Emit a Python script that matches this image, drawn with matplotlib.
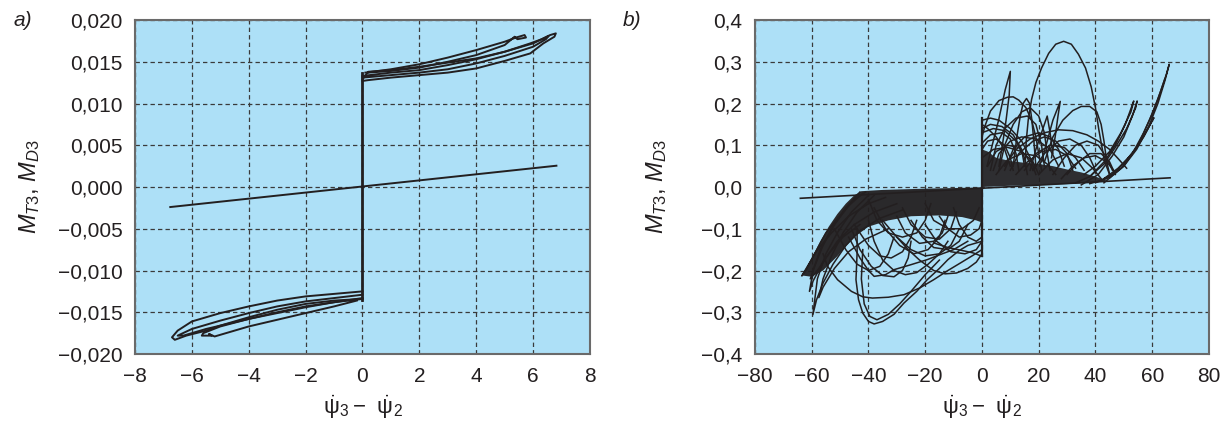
import matplotlib
matplotlib.use("Agg")
import matplotlib.pyplot as plt

INK = "#231f20"
PANEL_BG = "#ade0f7"

# ---------- panel a) ----------
A_XTICKS = [-8, -6, -4, -2, 0, 2, 4, 6, 8]
A_XLABELS = ["\u22128", "\u22126", "\u22124", "\u22122", "0", "2", "4", "6", "8"]
A_YTICKS = [0.020, 0.015, 0.010, 0.005, 0.0, -0.005, -0.010, -0.015, -0.020]
A_YLABELS = ["0,020", "0,015", "0,010", "0,005", "0,000",
             "\u22120,005", "\u22120,010", "\u22120,015", "\u22120,020"]

A_LINE_X = [-6.76, 6.82]
A_LINE_Y = [-0.0024, 0.00255]
A_JUMP_X = [0.0, 0.0]
A_JUMP_Y = [-0.0135, 0.0137]

A_UP_BIG_X = [0.0, 0.2, 1.0, 2.0, 3.0, 4.0, 5.0, 5.9, 6.3, 6.6, 6.8, 6.75, 6.36, 5.9, 5.0, 4.0, 3.0, 2.0, 1.0, 0.2, 0.0]
A_UP_BIG_Y = [0.0129, 0.0138, 0.0140, 0.0144, 0.0149, 0.0154, 0.0162, 0.0172, 0.0177, 0.0182, 0.0184, 0.0180, 0.0172,
              0.0160, 0.0151, 0.0142, 0.0137, 0.0134, 0.0131, 0.0128, 0.0127]
A_UP_TIP_X = [0.1, 1.0, 2.0, 3.0, 4.0, 5.0, 5.4, 5.7, 5.75, 5.45, 5.35, 5.0, 4.0, 3.0, 2.0, 1.0, 0.2]
A_UP_TIP_Y = [0.0137, 0.0141, 0.0147, 0.0155, 0.0164, 0.0174, 0.0179, 0.0182, 0.0179, 0.0177, 0.0180, 0.0170,
              0.0158, 0.0150, 0.0143, 0.0139, 0.0137]
A_UP_MID_X = [0.0, 1.0, 2.0, 3.0, 4.0, 5.0, 6.0, 6.55, 6.45, 6.0, 5.0, 4.0, 3.0, 2.0, 1.0, 0.0]
A_UP_MID_Y = [0.0133, 0.0137, 0.0140, 0.0146, 0.0153, 0.0162, 0.0172, 0.0181, 0.0177, 0.0168, 0.0157, 0.0148,
              0.0141, 0.0137, 0.0134, 0.0131]

A_LO_BIG_X = [0.0, -1.0, -2.0, -3.0, -4.0, -5.0, -6.0, -6.5, -6.7, -6.6, -6.2, -5.5, -5.0, -4.0, -3.0, -2.0, -1.0, 0.0]
A_LO_BIG_Y = [-0.0125, -0.0128, -0.0131, -0.0136, -0.0143, -0.0151, -0.0161, -0.0172, -0.0180, -0.0183, -0.0178,
              -0.0172, -0.0166, -0.0156, -0.0147, -0.0140, -0.0136, -0.0134]
A_LO_TIP_X = [0.0, -1.0, -2.0, -3.0, -4.0, -5.0, -5.6, -5.65, -5.3, -5.4, -5.2, -4.0, -3.0, -2.0, -1.0, -0.2]
A_LO_TIP_Y = [-0.0134, -0.0138, -0.0143, -0.0150, -0.0158, -0.0167, -0.0175, -0.0178, -0.0178, -0.0176, -0.0179,
              -0.0167, -0.0159, -0.0151, -0.0143, -0.0136]
A_LO_MID_X = [0.0, -1.0, -2.0, -3.0, -4.0, -5.0, -6.0, -6.5, -6.3, -5.5, -4.0, -3.0, -2.0, -1.0, 0.0]
A_LO_MID_Y = [-0.0129, -0.0133, -0.0137, -0.0143, -0.0151, -0.0160, -0.0170, -0.0178, -0.0178, -0.0170, -0.0158,
              -0.0151, -0.0144, -0.0138, -0.0133]

# ---------- panel b) ----------
B_XTICKS = [-80, -60, -40, -20, 0, 20, 40, 60, 80]
B_XLABELS = ["\u221280", "\u221260", "\u221240", "\u221220", "0", "20", "40", "60", "80"]
B_YTICKS = [0.4, 0.3, 0.2, 0.1, 0.0, -0.1, -0.2, -0.3, -0.4]
B_YLABELS = ["0,4", "0,3", "0,2", "0,1", "0,0", "\u22120,1", "\u22120,2", "\u22120,3", "\u22120,4"]

B_LINE_X = [-64.0, 66.3]
B_LINE_Y = [-0.027, 0.022]
B_JUMP_X = [0.0, 0.0]
B_JUMP_Y = [-0.166, 0.166]

# dense tangles of trajectory, drawn as filled areas
B_POS_DENSE = [(0, 0.0), (0, 0.09), (2, 0.085), (5, 0.07), (10, 0.062), (15, 0.058), (20, 0.055), (25, 0.05),
               (30, 0.042), (35, 0.035), (40, 0.025), (44, 0.015), (40, 0.01), (30, 0.007), (20, 0.005),
               (10, 0.003)]
B_NEG_DENSE = [(0, -0.001), (-20, -0.004), (-35, -0.007), (-42.5, -0.01), (-45, -0.02), (-48, -0.04),
               (-51, -0.065), (-54, -0.095), (-57, -0.13), (-60, -0.17), (-62.5, -0.2), (-63.3, -0.212),
               (-60, -0.215), (-56, -0.2), (-51, -0.166), (-45, -0.12), (-40, -0.095), (-33, -0.08),
               (-25, -0.07), (-15, -0.068), (-7, -0.072), (-2, -0.08), (0, -0.085)]

B_POS_ARCS = [
    [(15.3, 0.06), (15.6, 0.11), (16.3, 0.16), (17.5, 0.21), (19, 0.25), (21, 0.285), (23.5, 0.32), (26, 0.342),
     (28.8, 0.349), (31.5, 0.342), (34, 0.318), (36.5, 0.285), (38.5, 0.24), (40, 0.19), (41.2, 0.137),
     (42.3, 0.095), (43.3, 0.06), (45.2, 0.026)],
    [(1.8, 0.05), (3.5, 0.097), (5.9, 0.161), (8.2, 0.233), (10, 0.277), (9.6, 0.22), (8.5, 0.16), (7.2, 0.1),
     (6, 0.05)],
    [(0, 0.12), (1, 0.145), (3, 0.182), (6, 0.207), (9, 0.215), (11, 0.216), (13, 0.208), (15.5, 0.19),
     (17.5, 0.16), (19, 0.12), (20, 0.08), (21, 0.04)],
    [(11, 0.05), (12.3, 0.12), (13.5, 0.17), (14.5, 0.2), (15.7, 0.212), (16.8, 0.2), (17.6, 0.16), (18.3, 0.11),
     (19, 0.05)],
    [(21, 0.06), (23, 0.11), (25, 0.16), (27.6, 0.205), (26.8, 0.17), (25.8, 0.12), (24.5, 0.07)],
    [(22, 0.06), (25, 0.12), (28.5, 0.16), (32, 0.183), (35, 0.193), (38, 0.193), (40.5, 0.18), (42, 0.15),
     (43, 0.11), (44, 0.06), (45, 0.03)],
    [(8, 0.05), (12, 0.09), (17, 0.115), (22, 0.13), (27, 0.137), (32, 0.135), (37, 0.125), (41, 0.11),
     (45, 0.09), (48, 0.068), (51, 0.045)],
    [(38, 0.008), (44, 0.02), (49, 0.045), (53, 0.08), (57, 0.13), (60, 0.175), (63, 0.23), (65, 0.27),
     (66, 0.294), (64.5, 0.255), (62, 0.2), (58.5, 0.14), (54.5, 0.09), (50, 0.05), (45, 0.022)],
    [(40, 0.01), (46, 0.03), (51, 0.065), (55, 0.1), (58, 0.135), (60.6, 0.166), (57, 0.12), (53, 0.08),
     (48, 0.045), (43, 0.02)],
    [(33, 0.01), (38, 0.025), (43, 0.06), (47, 0.1), (50.5, 0.15), (53.5, 0.206), (52.5, 0.18), (49, 0.13),
     (45, 0.085), (40, 0.05), (36, 0.03)],
    [(35, 0.005), (41, 0.03), (46, 0.075), (50, 0.12), (53, 0.17), (54.7, 0.206), (54.2, 0.19), (51, 0.14),
     (47, 0.095), (43, 0.055), (38, 0.025)],
    [(43, 0.01), (50, 0.05), (55, 0.1), (59, 0.16), (62, 0.21), (64.5, 0.26)],
    [(0, 0.16), (3, 0.165), (6, 0.16), (10, 0.14), (14, 0.11), (17, 0.07), (19, 0.03)],
    [(0, 0.13), (4, 0.14), (8, 0.135), (12, 0.11), (15, 0.07), (16, 0.03)],
    [(0, 0.105), (3, 0.125), (7, 0.13), (10, 0.115), (12, 0.08), (13, 0.04)],
    [(4, 0.04), (6, 0.08), (10, 0.11), (14, 0.12), (19, 0.115), (24, 0.09), (27, 0.05)],
    [(10, 0.04), (13, 0.08), (18, 0.11), (22, 0.12), (26, 0.11), (30, 0.08), (32, 0.04)],
    [(2, 0.05), (5, 0.085), (9, 0.1), (13, 0.095), (16, 0.07), (18, 0.04)],
    [(15, 0.04), (19, 0.08), (24, 0.1), (29, 0.095), (33, 0.07), (36, 0.04)],
    [(20, 0.03), (25, 0.065), (30, 0.08), (35, 0.07), (39, 0.045), (42, 0.02)],
    [(6, 0.04), (8, 0.1), (11, 0.15), (14, 0.18), (17, 0.19), (20, 0.17), (22, 0.13), (23, 0.08), (24, 0.04)],
    [(25, 0.03), (29, 0.07), (33, 0.1), (37, 0.11), (41, 0.1), (44, 0.07), (46, 0.04)],
    [(28, 0.02), (32, 0.05), (36, 0.07), (40, 0.075), (44, 0.06), (47, 0.035)],
    [(12, 0.03), (16, 0.06), (21, 0.085), (26, 0.09), (30, 0.075), (33, 0.045)],
    [(0, 0.09), (2, 0.11), (5, 0.115), (8, 0.1), (10, 0.07), (11, 0.04)],
    [(0, 0.07), (4, 0.09), (9, 0.095), (14, 0.085), (18, 0.06), (20, 0.03)],
    [(5, 0.03), (9, 0.065), (14, 0.08), (19, 0.075), (23, 0.055), (26, 0.03)],
    [(17, 0.04), (19, 0.09), (21, 0.13), (22.5, 0.16), (23, 0.17), (24, 0.13), (25, 0.08)],
    [(0, 0.15), (2, 0.14), (5, 0.12), (8, 0.09), (10, 0.05)],
    [(0, 0.14), (3, 0.15), (7, 0.145), (11, 0.125), (14, 0.09), (15, 0.05)],
    [(3, 0.04), (5, 0.1), (8, 0.14), (12, 0.165), (16, 0.17), (19, 0.15), (21, 0.1), (22, 0.05)],
    [(8, 0.04), (11, 0.09), (15, 0.12), (20, 0.13), (24, 0.12), (27, 0.09), (29, 0.05)],
    [(18, 0.04), (22, 0.08), (27, 0.11), (31, 0.115), (35, 0.1), (38, 0.07), (40, 0.04)],
    [(30, 0.03), (34, 0.06), (38, 0.08), (42, 0.08), (45, 0.06), (47, 0.03)],
]

B_NEG_ARCS = [
    [(-41, -0.012), (-45, -0.03), (-50, -0.068), (-55, -0.11), (-59, -0.16), (-62, -0.2), (-63.5, -0.213),
     (-61.5, -0.19), (-58, -0.15), (-53, -0.11), (-47, -0.07), (-40, -0.04), (-34, -0.025)],
    [(-43, -0.012), (-48, -0.05), (-53, -0.1), (-57, -0.15), (-59.5, -0.2), (-60.8, -0.25), (-59.5, -0.225),
     (-56, -0.18), (-51, -0.13), (-45, -0.09), (-38, -0.06), (-30, -0.04)],
    [(-40, -0.02), (-46, -0.06), (-51, -0.11), (-55, -0.16), (-58, -0.22), (-59.6, -0.306), (-58.3, -0.27),
     (-56, -0.23), (-52.5, -0.185), (-48, -0.14), (-43, -0.105), (-36, -0.075), (-28, -0.055)],
    [(-38, -0.02), (-44, -0.06), (-49, -0.11), (-53, -0.165), (-56, -0.22), (-57.5, -0.265), (-56, -0.24),
     (-52, -0.195), (-47, -0.155), (-41, -0.125), (-33, -0.1)],
    [(-42, -0.015), (-47, -0.045), (-52, -0.09), (-56, -0.14), (-59, -0.19), (-60.5, -0.22), (-58, -0.2),
     (-54, -0.16), (-49, -0.12), (-43, -0.09)],
    [(-44, -0.1), (-44, -0.158), (-44.4, -0.222), (-43.5, -0.27), (-42, -0.302), (-40, -0.322), (-38, -0.328),
     (-35, -0.322), (-31, -0.305), (-27.5, -0.278), (-23, -0.25), (-19.3, -0.222), (-15, -0.195),
     (-12, -0.174), (-8, -0.152), (-5, -0.14), (0, -0.13)],
    [(-42, -0.15), (-42.5, -0.22), (-41.5, -0.28), (-39.5, -0.31), (-37, -0.318), (-33, -0.305), (-29, -0.28),
     (-25, -0.25), (-20, -0.21), (-15, -0.175)],
    [(-56, -0.16), (-54.4, -0.19), (-50.9, -0.222), (-46, -0.25), (-42, -0.263), (-38.6, -0.266),
     (-33, -0.264), (-27.5, -0.258), (-22, -0.242), (-17, -0.222), (-12, -0.2), (-7.6, -0.182),
     (-3, -0.163), (0, -0.15)],
    [(-47, -0.12), (-43, -0.17), (-40, -0.2), (-38, -0.214), (-34, -0.21), (-31, -0.198), (-25, -0.186),
     (-19.3, -0.174), (-14, -0.16), (-10, -0.15), (-5, -0.13)],
    [(-30, -0.12), (-26, -0.15), (-22, -0.175), (-17, -0.2), (-13, -0.208), (-9, -0.206), (-5, -0.195),
     (-2, -0.18), (0, -0.16)],
    [(-40, -0.08), (-38, -0.13), (-35, -0.175), (-31, -0.2), (-27, -0.21), (-23, -0.205), (-19, -0.185),
     (-15, -0.16), (-12, -0.13)],
    [(-46, -0.1), (-43, -0.15), (-39, -0.19), (-35, -0.212), (-31, -0.215), (-28, -0.2), (-26, -0.17),
     (-25, -0.13)],
    [(-17, -0.134), (-12, -0.145), (-7, -0.152), (-3, -0.158), (0, -0.166)],
    [(-20, -0.09), (-16, -0.13), (-11, -0.155), (-6, -0.16), (-2, -0.15), (0, -0.13)],
    [(-35, -0.08), (-30, -0.12), (-25, -0.15), (-20, -0.165), (-15, -0.16), (-11, -0.14), (-8, -0.1)],
    [(-25, -0.08), (-21, -0.12), (-17, -0.145), (-12, -0.15), (-8, -0.13), (-5, -0.09)],
    [(-45, -0.09), (-40, -0.14), (-36, -0.165), (-32, -0.17), (-28, -0.155), (-25, -0.12), (-23, -0.08)],
    [(-30, -0.07), (-27, -0.11), (-22, -0.135), (-17, -0.13), (-14, -0.11), (-12, -0.07)],
    [(-52, -0.1), (-48, -0.15), (-44, -0.185), (-40, -0.2), (-36, -0.19), (-33, -0.16), (-31, -0.12)],
    [(-15, -0.07), (-12, -0.1), (-8, -0.12), (-4, -0.115), (-1, -0.1), (0, -0.08)],
    [(-40, -0.03), (-37, -0.08), (-33, -0.11), (-28, -0.12), (-23, -0.11), (-20, -0.08), (-18, -0.04)],
    [(-20, -0.04), (-17, -0.08), (-12, -0.1), (-7, -0.1), (-3, -0.08), (-1, -0.05)],
    [(-38, -0.05), (-34, -0.1), (-29, -0.14), (-24, -0.16), (-19, -0.15), (-15, -0.12), (-13, -0.08)],
    [(-10, -0.05), (-8, -0.09), (-5, -0.12), (-2, -0.13), (0, -0.12)],
    [(-28, -0.05), (-25, -0.09), (-20, -0.12), (-15, -0.125), (-11, -0.1), (-9, -0.06)],
]

XLABEL = r"$\dot{\mathrm{\psi}}_3 -\;\, \dot{\mathrm{\psi}}_2$"
YLABEL = r"$M_{T\mathit{3}}$, $M_{D\mathit{3}}$"

plt.rcParams["font.family"] = ["Liberation Sans", "DejaVu Sans"]
plt.rcParams["mathtext.fontset"] = "custom"
plt.rcParams["mathtext.rm"] = "Liberation Sans"
plt.rcParams["mathtext.it"] = "Liberation Sans:italic"
plt.rcParams["mathtext.bf"] = "Liberation Sans:bold"


def style_axes(ax, xticks, xlabels, yticks, ylabels, ylab_x):
    ax.set_facecolor(PANEL_BG)
    ax.set_xlim(xticks[0], xticks[-1])
    ax.set_ylim(min(yticks), max(yticks))
    ax.set_xticks(xticks)
    ax.set_xticklabels(xlabels)
    ax.set_yticks(yticks)
    ax.set_yticklabels(ylabels)
    ax.tick_params(length=0, labelsize=15, colors=INK, pad=9)
    ax.grid(True, linestyle=(0, (3.5, 2.5)), color="#3a3a3a", linewidth=0.9)
    ax.set_axisbelow(True)
    for sp in ax.spines.values():
        sp.set_color("#6a6a6a")
        sp.set_linewidth(1.5)
    ax.set_xlabel(XLABEL, fontsize=16, color=INK, labelpad=6)
    ax.set_ylabel(YLABEL, fontsize=17, color=INK)
    ax.yaxis.set_label_coords(ylab_x, 0.5)


def draw_paths(ax, paths, lw):
    for pts in paths:
        xs = [p[0] for p in pts]
        ys = [p[1] for p in pts]
        ax.plot(xs, ys, color=INK, linewidth=lw, solid_joinstyle="round")


def plot_a(ax):
    style_axes(ax, A_XTICKS, A_XLABELS, A_YTICKS, A_YLABELS, -0.205)
    ax.plot(A_LINE_X, A_LINE_Y, color=INK, linewidth=1.4)
    ax.plot(A_JUMP_X, A_JUMP_Y, color=INK, linewidth=2.0)
    loops = [
        (A_UP_BIG_X, A_UP_BIG_Y), (A_UP_TIP_X, A_UP_TIP_Y), (A_UP_MID_X, A_UP_MID_Y),
        (A_LO_BIG_X, A_LO_BIG_Y), (A_LO_TIP_X, A_LO_TIP_Y), (A_LO_MID_X, A_LO_MID_Y),
    ]
    for xs, ys in loops:
        ax.plot(xs, ys, color=INK, linewidth=1.4, solid_joinstyle="round")


def plot_b(ax):
    style_axes(ax, B_XTICKS, B_XLABELS, B_YTICKS, B_YLABELS, -0.19)
    ax.fill([p[0] for p in B_POS_DENSE], [p[1] for p in B_POS_DENSE], color=INK, alpha=0.92, linewidth=0)
    ax.fill([p[0] for p in B_NEG_DENSE], [p[1] for p in B_NEG_DENSE], color=INK, alpha=0.95, linewidth=0)
    draw_paths(ax, B_POS_ARCS, 1.1)
    draw_paths(ax, B_NEG_ARCS, 1.1)
    ax.plot(B_LINE_X, B_LINE_Y, color=INK, linewidth=1.2)
    ax.plot(B_JUMP_X, B_JUMP_Y, color=INK, linewidth=1.6)


def main():
    fig = plt.figure(figsize=(12.24, 4.23), dpi=100)
    ax_a = fig.add_axes([0.1103, 0.1631, 0.3717, 0.7896])
    ax_b = fig.add_axes([0.6168, 0.1631, 0.3709, 0.7896])
    plot_a(ax_a)
    plot_b(ax_b)
    fig.text(0.011, 0.952, "a)", fontsize=15, style="italic", color=INK, va="center")
    fig.text(0.509, 0.952, "b)", fontsize=15, style="italic", color=INK, va="center")
    fig.savefig("out.png", dpi=100)
    plt.close(fig)


if __name__ == "__main__":
    main()
